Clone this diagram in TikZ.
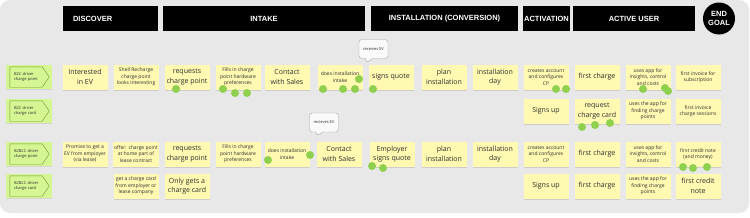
\documentclass[tikz,border=0pt]{standalone}
\usepackage{fontspec}
\setmainfont{Open Sans}
\newfontfamily\headfont{Liberation Sans}
\usepackage{tikz}
\usetikzlibrary{shapes.callouts, shadows, calc}
\definecolor{boardgray}{HTML}{E8E8E8}
\definecolor{stickyyellow}{HTML}{FFF9B1}
\definecolor{taggreen}{HTML}{D5F692}
\definecolor{tagline}{HTML}{6E9A2E}
\definecolor{dotgreen}{HTML}{8FD14F}
\definecolor{inkgray}{HTML}{2E2E2E}

\begin{document}
\begin{tikzpicture}[
    x=1pt, y=-1pt,
    phase/.style={fill=black, text=white, minimum height=25pt, inner xsep=0pt, font=\headfont\bfseries\fontsize{7.5}{8.5}\selectfont},
    sticky/.style={fill=stickyyellow, minimum width=45pt, minimum height=25pt, align=center, inner sep=1pt, text=inkgray,
        drop shadow={shadow xshift=0pt, shadow yshift=-1.5pt, opacity=0.25}},
    big/.style={sticky, font=\fontsize{7}{9.5}\selectfont},
    small/.style={sticky, font=\fontsize{5}{6.5}\selectfont},
    persona/.style={fill=taggreen, minimum width=46pt, minimum height=24pt, text width=30pt, align=left, inner sep=0pt, text=inkgray,
        font=\fontsize{4}{5}\selectfont, drop shadow={shadow xshift=0pt, shadow yshift=-1pt, opacity=0.2}},
    dot/.style={fill=dotgreen},
    bubble/.style={rectangle callout, draw=gray!70, fill=gray!4, rounded corners=3pt, minimum width=29pt, minimum height=19pt,
        font=\fontsize{4}{5}\selectfont, text=inkgray},
]
    % Board
    \useasboundingbox (0,0) rectangle (750,217);
    \fill[white] (0,0) rectangle (750,217);
    \fill[boardgray, rounded corners=10pt] (0,0) rectangle (749,213);

    % Phases
    \node[phase, minimum width=95pt, text width=75pt, align=left] (discover) at (110.5,18.5) {DISCOVER};
    \node[phase, minimum width=202pt] (intake) at (264,18.5) {INTAKE};
    \node[phase, minimum width=147pt] (install) at (444.5,18.5) {INSTALLATION (CONVERSION)};
    \node[phase, minimum width=47pt] (activation) at (546.5,18.5) {ACTIVATION};
    \node[phase, minimum width=122pt] (active) at (634,18.5) {ACTIVE USER};
    \node[circle, fill=black, text=white, minimum size=32pt, inner sep=0pt, align=center,
        font=\headfont\bfseries\fontsize{7.5}{9}\selectfont] (endgoal) at (719,18.5) {END\\GOAL};

    % Personas
    \node[persona] (t1) at (29,77) {B2C driver\\charge point};
    \node[persona] (t2) at (29,111) {B2C driver\\charge card};
    \node[persona] (t3) at (29,154) {B2B2C driver\\charge point};
    \node[persona] (t4) at (29,186) {B2B2C driver\\charge card};
    \foreach \t in {t1,t2,t3,t4}
        \draw[tagline, line width=0.4pt] ($(\t.north west)+(4,2)$) -- ($(\t.north east)+(-10,2)$) -- ($(\t.east)+(-3,0)$)
            -- ($(\t.south east)+(-10,-2)$) -- ($(\t.south west)+(4,-2)$) -- cycle;

    % Row 1: B2C driver charge point
    \node[big] (cp1) at (85,77) {Interested\\in EV};
    \node[small] (cp2) at (136,77) {Shell Recharge\\charge point\\looks interesting};
    \node[big] (cp3) at (187,77) {requests\\charge point};
    \node[small] (cp4) at (238,77) {Fills in charge\\point hardware\\preferences};
    \node[big] (cp5) at (287,77) {Contact\\with Sales};
    \node[small] (cp6) at (340,77) {does installation\\intake};
    \node[big] (cp7) at (391,77) {signs quote};
    \node[big] (cp8) at (444,77) {plan\\installation};
    \node[big] (cp9) at (495,77) {installation\\day};
    \node[small] (cp10) at (546,77) {creates account\\and configures\\CP};
    \node[big] (cp11) at (597,77) {first charge};
    \node[small] (cp12) at (648,77) {uses app for\\insights, control\\and costs};
    \node[small] (cp13) at (698,77) {first invoice for\\subscription};

    % Row 2: B2C driver charge card
    \node[big] (cc10) at (546,111) {Signs up};
    \node[big] (cc11) at (597,111) {request\\charge card};
    \node[small] (cc12) at (648,111) {uses the app for\\finding charge\\points};
    \node[small] (cc13) at (698,111) {first invoice\\charge sessions};

    % Row 3: B2B2C driver charge point
    \node[small] (bp1) at (85,154) {Promise to get a\\EV from employer\\(via lease)};
    \node[small] (bp2) at (136,154) {offer: charge point\\at home part of\\lease contract};
    \node[big] (bp3) at (187,154) {requests\\charge point};
    \node[small] (bp4) at (238,154) {Fills in charge\\point hardware\\preferences};
    \node[small] (bp5) at (287,154) {does installation\\intake};
    \node[big] (bp6) at (339,154) {Contact\\with Sales};
    \node[big] (bp7) at (392,154) {Employer\\signs quote};
    \node[big] (bp8) at (444,154) {plan\\installation};
    \node[big] (bp9) at (495,154) {installation\\day};
    \node[small] (bp10) at (546,154) {creates account\\and configures\\CP};
    \node[big] (bp11) at (597,154) {first charge};
    \node[small] (bp12) at (648,154) {uses app for\\insights, control\\and costs};
    \node[small] (bp13) at (698,154) {first credit note\\(and money)};

    % Row 4: B2B2C driver charge card
    \node[small] (bc2) at (136,186) {get a charge card\\from employer or\\lease company};
    \node[big] (bc3) at (187,186) {Only gets a\\charge card};
    \node[big] (bc10) at (546,186) {Signs up};
    \node[big] (bc11) at (597,186) {first charge};
    \node[small] (bc12) at (648,186) {uses the app for\\finding charge\\points};
    \node[big] (bc13) at (698,186) {first credit\\note};

    % Comments
    \coordinate (rcv1) at (366,63);
    \coordinate (rcv3) at (316,136);
    \node[bubble, callout absolute pointer={(rcv1)}] (ev1) at (373.5,49) {receives EV};
    \node[bubble, callout absolute pointer={(rcv3)}] (ev3) at (324,122.5) {recieves EV};

    % Votes
    \foreach \px/\py in {176/89, 223/89, 235/93, 247/93, 323/89, 343/89, 355/89, 359/79, 373/89,
        556/89, 566/89, 643/89, 665/88, 668/91, 582/127, 595/125, 610/123,
        268/160, 310/155, 372/166, 383/168, 683/167, 693/168, 707/167}
        \fill[dot] (\px,\py) circle (4);
\end{tikzpicture}
\end{document}
